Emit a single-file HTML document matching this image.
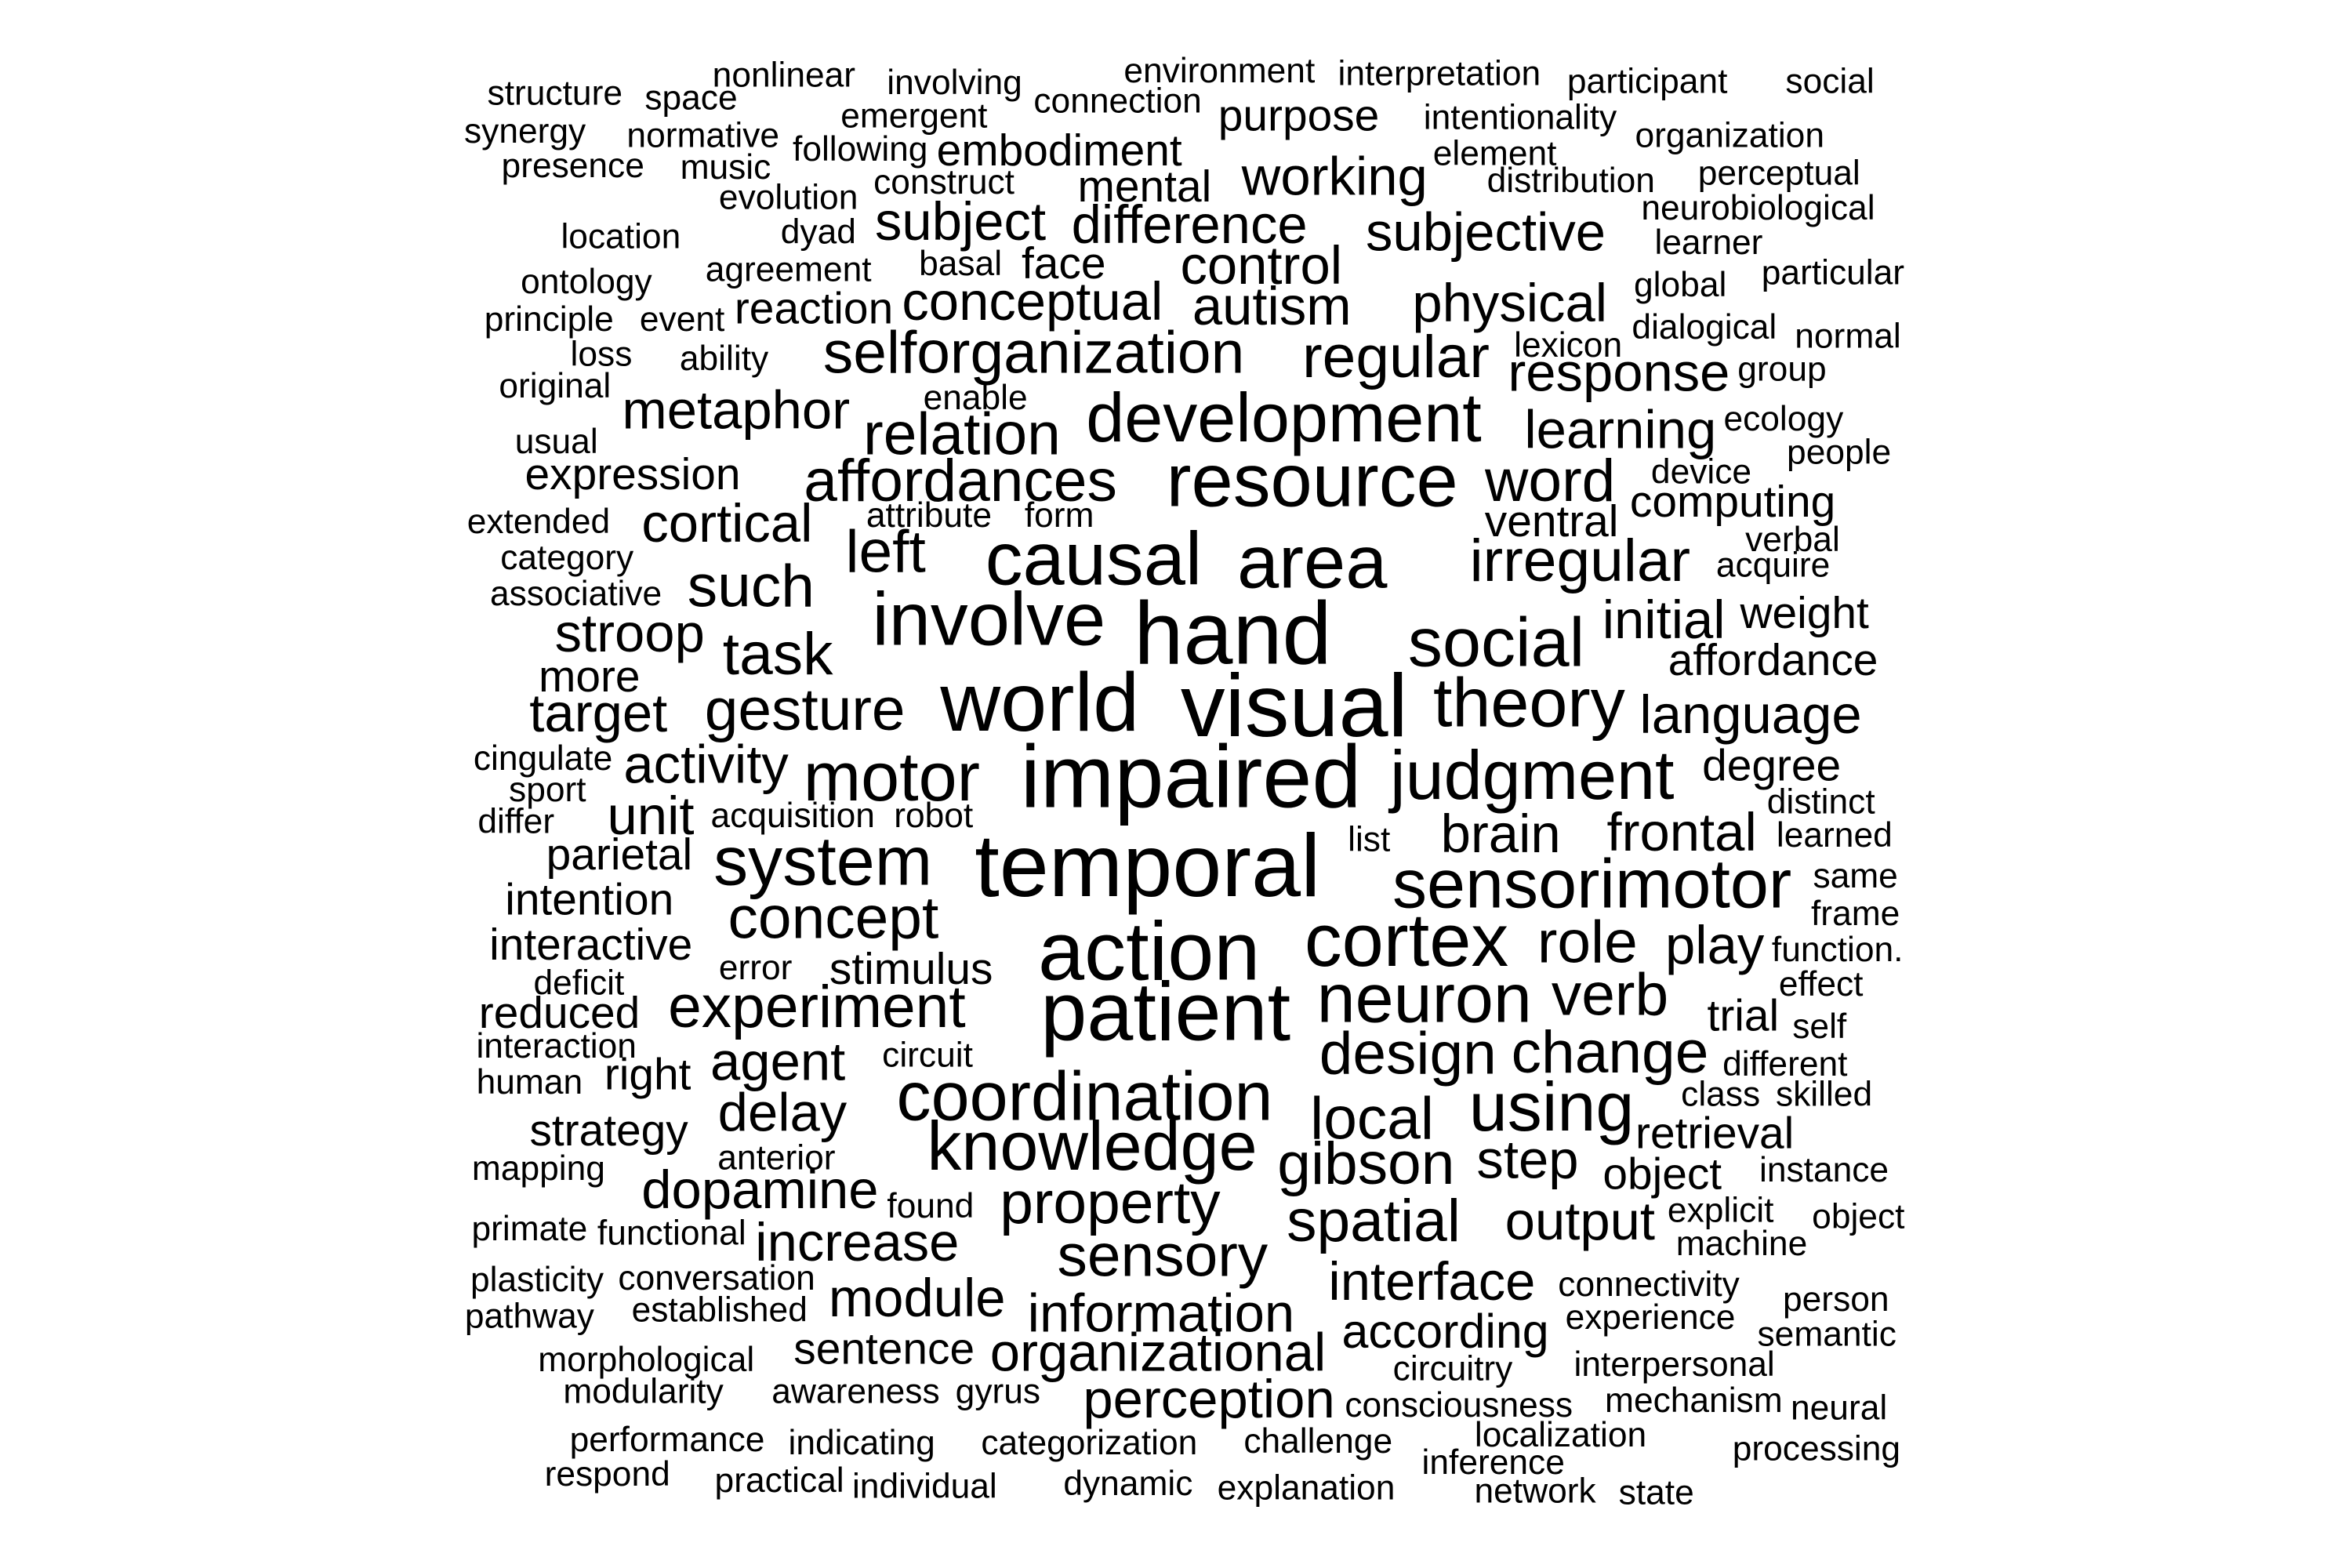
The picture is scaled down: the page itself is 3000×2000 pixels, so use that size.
<!DOCTYPE html>
<html><head><meta charset="utf-8"><style>
html,body{margin:0;padding:0;background:#fff;}
svg{display:block;}
text{font-family:"Liberation Sans",Arial,sans-serif;fill:#000;}
</style></head>
<body>
<svg id="cloud" width="3000" height="2000" viewBox="0 0 1556 1040" preserveAspectRatio="none" xmlns="http://www.w3.org/2000/svg"></svg>
<script>
const words=["nonlinear","involving","environment","interpretation","participant","social","structure","space","emergent","connection","purpose","intentionality","synergy","normative","following","embodiment","element","organization","presence","music","construct","mental","working","distribution","perceptual","evolution","neurobiological","location","dyad","subject","difference","subjective","learner","ontology","agreement","basal","face","control","global","particular","principle","event","reaction","conceptual","autism","physical","dialogical","normal","loss","ability","selforganization","regular","lexicon","response","group","original","enable","metaphor","relation","development","learning","ecology","usual","people","expression","affordances","resource","word","device","computing","extended","cortical","attribute","form","ventral","category","left","causal","area","irregular","verbal","acquire","associative","such","involve","hand","initial","weight","stroop","task","social","affordance","more","target","gesture","world","visual","theory","language","cingulate","activity","impaired","motor","judgment","degree","sport","distinct","differ","unit","acquisition","robot","list","brain","frontal","learned","parietal","system","temporal","sensorimotor","same","intention","concept","frame","interactive","cortex","role","play","error","stimulus","action","function.","deficit","effect","reduced","experiment","neuron","verb","patient","trial","self","interaction","circuit","design","change","agent","different","human","right","coordination","class","skilled","using","local","strategy","delay","retrieval","knowledge","anterior","mapping","gibson","step","object","instance","dopamine","found","property","explicit","object","primate","functional","increase","spatial","output","machine","sensory","plasticity","conversation","module","interface","connectivity","person","pathway","established","information","experience","according","semantic","sentence","organizational","morphological","circuitry","interpersonal","modularity","awareness","gyrus","perception","consciousness","mechanism","neural","performance","indicating","categorization","challenge","localization","processing","inference","respond","practical","individual","dynamic","explanation","network","state"];
const xs=[519,633,810,957,1096,1218,366,457,606,742,863,1011,346,465,570,703,994,1151,378,480,626,760,887,1045,1184,522,1170,410,542,637,790,988,1137,387,522,637,706,838,1118,1220,362,451,539,685,845,1004,1134,1230,397,479,686,928,1043,1077,1186,366,647,487,638,853,1078,1187,367,1224,418,637,872,1031,1132,1153,355,481,616,703,1032,374,587,726,872,1051,1193,1180,380,497,656,819,1107,1201,416,515,995,1180,389,395,533,690,860,1017,1165,358,467,791,591,1019,1179,361,1212,340,430,525,619,910,998,1119,1221,409,545,762,1059,1235,389,552,1235,390,935,1056,1141,500,604,763,1223,382,1212,369,541,947,1071,774,1160,1211,367,615,936,1071,515,1188,349,428,720,1145,1214,1032,912,402,518,1141,725,514,355,908,1016,1106,1214,503,617,737,1145,1237,349,444,568,913,1051,1159,772,354,474,608,952,1097,1222,349,476,771,1098,961,1216,586,769,427,966,1114,425,567,662,803,970,1127,1224,441,571,723,876,1038,1209,993,401,516,613,749,868,1021,1102];
const ys=[53,58,50,52,57,57,65,68,80,70,80,81,90,93,102,103,105,93,113,114,124,127,120,123,118,134,141,160,157,150,152,157,164,190,182,178,178,179,192,184,215,215,208,203,206,204,220,226,238,241,237,240,232,250,248,259,267,275,291,280,288,281,296,303,318,322,322,322,316,336,349,350,345,345,349,373,369,374,376,375,361,378,397,392,414,423,414,410,423,437,429,441,452,476,474,469,471,469,477,506,510,518,518,517,511,527,535,548,544,544,544,560,556,555,557,570,574,577,589,584,600,612,609,630,627,628,630,645,646,634,633,655,656,675,671,665,663,674,677,684,697,703,702,701,707,709,721,716,730,729,729,737,745,753,741,755,763,771,778,775,772,782,779,792,803,801,806,810,818,821,827,813,813,828,836,852,851,864,853,855,865,876,872,874,877,886,888,898,900,905,911,908,926,926,926,931,935,932,937,958,960,960,959,955,964,973,981,985,989,987,990,992,993];
const sizes=[20,20,20,20,20,20,20,20,20,20,26,20,20,20,20,26,20,20,20,20,20,26,32,20,20,20,20,20,20,32,32,32,20,20,20,20,26,32,20,20,20,20,26,32,32,32,20,20,20,20,36,36,20,32,20,20,20,32,36,42,32,20,20,20,26,36,46,36,20,26,20,32,20,20,26,20,36,46,46,36,20,20,20,36,46,56,32,26,32,36,42,26,26,32,36,52,56,42,32,20,32,56,42,42,26,20,20,20,32,20,20,20,32,32,20,26,42,56,42,20,26,36,20,26,46,36,32,20,26,52,20,20,20,26,36,42,36,52,26,20,20,20,36,36,32,20,20,26,42,20,20,42,36,26,32,26,42,20,20,36,32,26,20,32,20,36,20,20,20,20,32,36,32,20,36,20,20,32,32,20,20,20,20,32,20,28,20,26,32,20,20,20,20,20,20,32,20,20,20,20,20,20,20,20,20,20,20,20,20,20,20,20,20,20];
const svg=document.getElementById('cloud');
const NS="http://www.w3.org/2000/svg";
for(let i=0;i<words.length;i++){
  const t=document.createElementNS(NS,'text');
  const s=sizes[i];
  const fs=s*(1.15-(s-20)*0.0028);
  const x=780+(xs[i]-780)*0.99-3;
  const y=ys[i]-3;
  t.setAttribute('x',x.toFixed(1));
  t.setAttribute('y',y);
  t.setAttribute('font-size',fs.toFixed(1));
  t.setAttribute('text-anchor','middle');
  t.setAttribute('dominant-baseline','central');
  t.textContent=words[i];
  
  
  svg.appendChild(t);
}
</script>
</body></html>
